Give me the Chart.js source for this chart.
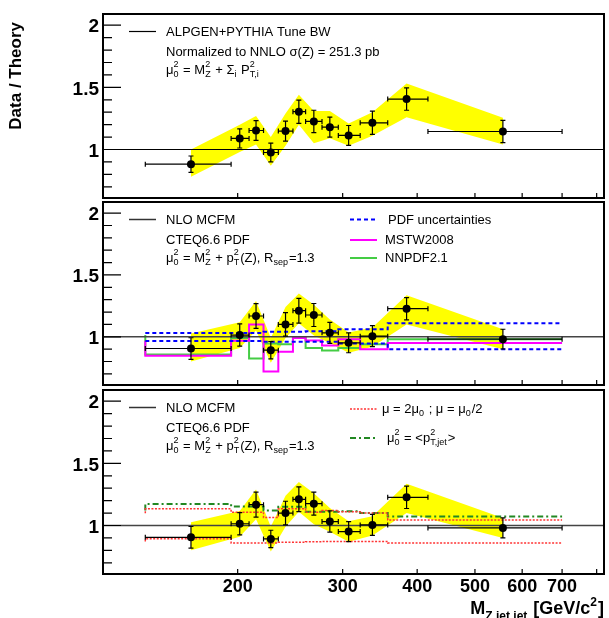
<!DOCTYPE html>
<html>
<head>
<meta charset="utf-8">
<script src="https://cdn.jsdelivr.net/npm/chart.js@4.4.0/dist/chart.umd.min.js"></script>
<style>
  body { margin: 0; background: #fff; }
  #wrap { position: relative; width: 609px; height: 618px; }
  canvas { position: absolute; left: 0; top: 0; }
</style>
</head>
<body>
<div id="wrap">
  <canvas id="c1" width="609" height="618"></canvas>
  <canvas id="c2" width="609" height="618"></canvas>
  <canvas id="c3" width="609" height="618"></canvas>
</div>
<script>
// bins in M(Z,jet,jet) [GeV/c^2]
const binEdges = [140, 195, 209, 221, 234, 247.6, 260, 277, 295, 321, 357, 417, 700];
const binCenters = [167, 201.6, 214.7, 227.3, 240.6, 253.3, 268.4, 285.5, 307, 336.5, 384, 557];

// panel 1: data / ALPGEN+PYTHIA
const ratioAlpgen = [0.882, 1.089, 1.153, 0.976, 1.148, 1.304, 1.226, 1.180, 1.113, 1.215, 1.406, 1.145];
const errAlpgen = [0.066, 0.077, 0.080, 0.075, 0.080, 0.094, 0.090, 0.081, 0.080, 0.093, 0.090, 0.089];
const bandAlpgenLo = [0.78, 0.98, 1.04, 0.87, 1.03, 1.20, 1.05, 1.09, 1.03, 1.11, 1.26, 1.04];
const bandAlpgenHi = [1.00, 1.20, 1.27, 1.10, 1.29, 1.44, 1.31, 1.31, 1.21, 1.30, 1.53, 1.255];

// panels 2 and 3: data / NLO MCFM (CTEQ6.6)
const ratioMcfm = [0.905, 1.014, 1.168, 0.892, 1.100, 1.211, 1.176, 1.032, 0.951, 1.005, 1.227, 0.981];
const errMcfm = [0.087, 0.090, 0.100, 0.070, 0.095, 0.100, 0.093, 0.085, 0.080, 0.085, 0.090, 0.080];
const bandMcfmLo = [0.80, 0.91, 1.05, 0.79, 0.99, 1.11, 1.01, 0.95, 0.87, 0.92, 1.10, 0.90];
const bandMcfmHi = [1.026, 1.117, 1.29, 0.99, 1.24, 1.35, 1.26, 1.14, 1.035, 1.075, 1.335, 1.06];

// panel 2 theory curves (per bin)
const pdfUp = [1.03, 1.03, 1.03, 1.03, 1.04, 1.04, 1.04, 1.045, 1.045, 1.06, 1.06, 1.11];
const pdfDown = [0.965, 0.965, 0.965, 0.965, 0.96, 0.96, 0.96, 0.96, 0.96, 0.945, 0.945, 0.90];
const mstw = [0.968, 0.846, 0.968, 1.10, 0.72, 0.878, 0.99, 0.97, 0.93, 0.98, 0.90, 0.95];
const nnpdf = [1.014, 0.857, 0.99, 0.824, 0.946, 0.94, 0.99, 0.91, 0.89, 0.91, 0.94, 0.98];

// panel 3 theory curves (per bin)
const scaleUp = [1.099, 1.134, 1.107, 1.107, 1.064, 1.134, 1.134, 1.107, 1.12, 1.11, 1.10, 1.045];
const scaleDown = [0.872, 0.893, 0.86, 0.86, 0.86, 0.865, 0.865, 0.87, 0.872, 0.872, 0.872, 0.86];
const ptJet = [1.12, 1.174, 1.152, 1.152, 1.12, 1.15, 1.15, 1.11, 1.11, 1.115, 1.10, 1.072];

const xTicks = [200, 300, 400, 500, 600, 700, 800];
const xTickLabels = ["200", "300", "400", "500", "600", "700", ""];
const yMajor = [1, 1.5, 2];
const yMajorLabels = ["1", "1.5", "2"];
const yMinor = [0.7, 0.8, 0.9, 1.1, 1.2, 1.3, 1.4, 1.6, 1.7, 1.8, 1.9];

const X_MIN = 118.9, X_MAX = 823;
const Y_MIN = 0.61, Y_MAX = 2.09;
const FONT = '"Liberation Sans", Arial, Helvetica, sans-serif';
const LEG = 13;

function pts(xs, ys) {
  return xs.map((x, i) => ({ x: x, y: ys[i] }));
}
function steps(vals) {
  let d = vals.map((v, i) => ({ x: binEdges[i], y: v }));
  d.push({ x: binEdges[binEdges.length - 1], y: vals[vals.length - 1] });
  return d;
}

// text with stacked super/subscripts; parts = [[text, sup, sub], ...]
function richText(ctx, x, y, parts, size, bold, measureOnly) {
  let w = bold ? "bold " : "";
  let small = Math.round(size * 0.68);
  let x0 = x;
  for (let p of parts) {
    ctx.font = w + size + "px " + FONT;
    if (!measureOnly) ctx.fillText(p[0], x, y);
    x += ctx.measureText(p[0]).width;
    let sw = 0;
    ctx.font = w + small + "px " + FONT;
    if (p[1]) {
      if (!measureOnly) ctx.fillText(p[1], x, y - size * 0.42);
      sw = ctx.measureText(p[1]).width;
    }
    if (p[2]) {
      if (!measureOnly) ctx.fillText(p[2], x, y + size * 0.32);
      sw = Math.max(sw, ctx.measureText(p[2]).width);
    }
    x += sw + (sw ? 1 : 0);
  }
  return x - x0;
}

function sampleLine(ctx, x0, x1, y, color, width, dash) {
  ctx.save();
  ctx.strokeStyle = color;
  ctx.lineWidth = width;
  ctx.setLineDash(dash || []);
  ctx.beginPath();
  ctx.moveTo(x0, y);
  ctx.lineTo(x1, y);
  ctx.stroke();
  ctx.restore();
}

function makeFramePlugin(ratio, err, legend, showX) {
  return {
    id: "rootframe",
    afterDatasetsDraw(chart) {
      const ctx = chart.ctx;
      const a = chart.chartArea;
      const xs = chart.scales.x, ys = chart.scales.y;
      ctx.save();
      // error bars with end caps
      ctx.strokeStyle = "#000";
      ctx.lineWidth = 1.2;
      ctx.beginPath();
      binCenters.forEach((c, i) => {
        const px = xs.getPixelForValue(c);
        const py = ys.getPixelForValue(ratio[i]);
        const xl = xs.getPixelForValue(binEdges[i]);
        const xr = xs.getPixelForValue(binEdges[i + 1]);
        const yt = ys.getPixelForValue(ratio[i] + err[i]);
        const yb = ys.getPixelForValue(ratio[i] - err[i]);
        ctx.moveTo(xl, py); ctx.lineTo(xr, py);
        ctx.moveTo(xl, py - 2.5); ctx.lineTo(xl, py + 2.5);
        ctx.moveTo(xr, py - 2.5); ctx.lineTo(xr, py + 2.5);
        ctx.moveTo(px, yt); ctx.lineTo(px, yb);
        ctx.moveTo(px - 2.5, yt); ctx.lineTo(px + 2.5, yt);
        ctx.moveTo(px - 2.5, yb); ctx.lineTo(px + 2.5, yb);
      });
      ctx.stroke();
      ctx.fillStyle = "#000";
      binCenters.forEach((c, i) => {
        ctx.beginPath();
        ctx.arc(xs.getPixelForValue(c), ys.getPixelForValue(ratio[i]), 4, 0, Math.PI * 2);
        ctx.fill();
      });

      // frame
      ctx.lineWidth = 2;
      ctx.strokeRect(a.left, a.top, a.right - a.left, a.bottom - a.top);

      // ticks, drawn inside the frame
      ctx.lineWidth = 1.2;
      ctx.beginPath();
      yMajor.forEach(v => {
        const py = ys.getPixelForValue(v);
        ctx.moveTo(a.left, py); ctx.lineTo(a.left + 18, py);
      });
      yMinor.forEach(v => {
        const py = ys.getPixelForValue(v);
        ctx.moveTo(a.left, py); ctx.lineTo(a.left + 9, py);
      });
      xTicks.forEach(v => {
        const px = xs.getPixelForValue(v);
        ctx.moveTo(px, a.bottom); ctx.lineTo(px, a.bottom - 5);
      });
      ctx.stroke();

      ctx.font = "bold 19px " + FONT;
      ctx.textAlign = "right";
      ctx.textBaseline = "middle";
      yMajor.forEach((v, i) => {
        ctx.fillText(yMajorLabels[i], a.left - 4, ys.getPixelForValue(v) + 2);
      });

      if (showX) {
        ctx.font = "bold 18px " + FONT;
        ctx.textAlign = "center";
        ctx.textBaseline = "alphabetic";
        xTicks.forEach((v, i) => {
          ctx.fillText(xTickLabels[i], xs.getPixelForValue(v), a.bottom + 18);
        });
        ctx.textAlign = "left";
        const title = [["M", "", "Z,jet,jet"], [" [GeV/c", "2", ""], ["]", "", ""]];
        const tw = richText(ctx, 0, 0, title, 18, true, true);
        richText(ctx, a.right - tw, 614, title, 18, true);
      }

      ctx.textAlign = "left";
      ctx.textBaseline = "middle";
      ctx.fillStyle = "#000";
      legend(ctx, a);
      ctx.restore();
    }
  };
}

const yTitlePlugin = {
  id: "ytitle",
  afterDraw(chart) {
    const ctx = chart.ctx;
    ctx.save();
    ctx.translate(21, 22);
    ctx.rotate(-Math.PI / 2);
    ctx.font = "bold 17px " + FONT;
    ctx.textAlign = "right";
    ctx.textBaseline = "alphabetic";
    ctx.fillStyle = "#000";
    ctx.fillText("Data / Theory", 0, 0);
    ctx.restore();
  }
};

function legend1(ctx, a) {
  const t = a.top;
  sampleLine(ctx, 129, 156, t + 17.5, "#000", 1.2);
  ctx.font = LEG + "px " + FONT;
  ctx.fillText("ALPGEN+PYTHIA Tune BW", 166, t + 18);
  ctx.fillText("Normalized to NNLO \u03c3(Z) = 251.3 pb", 166, t + 38);
  richText(ctx, 166, t + 56, [["\u03bc", "2", "0"], [" = M", "2", "Z"], [" + \u03a3", "", "i"], [" P", "2", "T,i"]], LEG, false);
}

function legendMcfm(ctx, a) {
  const t = a.top;
  sampleLine(ctx, 129, 156, t + 17.5, "#333", 1.5);
  ctx.font = LEG + "px " + FONT;
  ctx.fillText("NLO MCFM", 166, t + 18);
  ctx.fillText("CTEQ6.6 PDF", 166, t + 38);
  richText(ctx, 166, t + 56, [["\u03bc", "2", "0"], [" = M", "2", "Z"], [" + p", "2", "T"], ["(Z), R", "", "sep"], ["=1.3", "", ""]], LEG, false);
}

function legend2(ctx, a) {
  legendMcfm(ctx, a);
  const t = a.top;
  sampleLine(ctx, 350, 377, t + 17.5, "#0000ff", 2, [4, 3]);
  sampleLine(ctx, 350, 377, t + 38, "#ff00ff", 2);
  sampleLine(ctx, 350, 377, t + 56, "#44cc44", 2);
  ctx.font = LEG + "px " + FONT;
  ctx.fillText("PDF uncertainties", 388, t + 18);
  ctx.fillText("MSTW2008", 385, t + 38);
  ctx.fillText("NNPDF2.1", 385, t + 56);
}

function legend3(ctx, a) {
  legendMcfm(ctx, a);
  const t = a.top;
  sampleLine(ctx, 350, 377, t + 19, "#ff3333", 1.5, [2, 1.5]);
  sampleLine(ctx, 350, 377, t + 48, "#228822", 2, [6, 3, 2, 3]);
  richText(ctx, 382, t + 19, [["\u03bc = 2\u03bc", "", "0"], [" ; \u03bc = \u03bc", "", "0"], ["/2", "", ""]], LEG, false);
  richText(ctx, 387, t + 48, [["\u03bc", "2", "0"], [" = <p", "2", "T,jet"], [">", "", ""]], LEG, false);
}

function bandSets(lo, hi) {
  return [
    { type: "line", data: pts(binCenters, hi), borderWidth: 0, pointRadius: 0,
      backgroundColor: "#ffff00", fill: "+1", order: 10, tension: 0 },
    { type: "line", data: pts(binCenters, lo), borderWidth: 0, pointRadius: 0,
      fill: false, order: 10, tension: 0 }
  ];
}
function stepSet(vals, color, width, dash) {
  return { type: "line", data: steps(vals), stepped: "after", borderColor: color,
    borderWidth: width, borderDash: dash || [], pointRadius: 0, fill: false, order: 5 };
}
function unitLine(color, width) {
  return { type: "line", data: [{ x: X_MIN, y: 1 }, { x: X_MAX, y: 1 }], borderColor: color,
    borderWidth: width, pointRadius: 0, fill: false, order: 4 };
}

function makeChart(id, top, bottom, datasets, plugins) {
  return new Chart(document.getElementById(id), {
    type: "line",
    data: { datasets: datasets },
    options: {
      responsive: false,
      animation: false,
      events: [],
      layout: { padding: { left: 103, right: 5, top: top, bottom: 618 - bottom } },
      plugins: { legend: { display: false }, tooltip: { enabled: false } },
      scales: {
        x: { type: "logarithmic", min: X_MIN, max: X_MAX, display: false },
        y: { type: "linear", min: Y_MIN, max: Y_MAX, display: false }
      }
    },
    plugins: plugins
  });
}

makeChart("c1", 14, 198,
  [...bandSets(bandAlpgenLo, bandAlpgenHi), unitLine("#000", 1.2)],
  [makeFramePlugin(ratioAlpgen, errAlpgen, legend1, false), yTitlePlugin]);

makeChart("c2", 202, 385,
  [...bandSets(bandMcfmLo, bandMcfmHi),
   stepSet(pdfUp, "#0000ff", 2, [4, 3]), stepSet(pdfDown, "#0000ff", 2, [4, 3]),
   stepSet(mstw, "#ff00ff", 2), stepSet(nnpdf, "#44cc44", 2),
   unitLine("#444", 1.5)],
  [makeFramePlugin(ratioMcfm, errMcfm, legend2, false)]);

makeChart("c3", 390, 574,
  [...bandSets(bandMcfmLo, bandMcfmHi),
   stepSet(scaleUp, "#ff3333", 1.5, [2, 1.5]), stepSet(scaleDown, "#ff3333", 1.5, [2, 1.5]),
   stepSet(ptJet, "#228822", 2, [6, 3, 2, 3]),
   unitLine("#444", 1.5)],
  [makeFramePlugin(ratioMcfm, errMcfm, legend3, true)]);
</script>
</body>
</html>
